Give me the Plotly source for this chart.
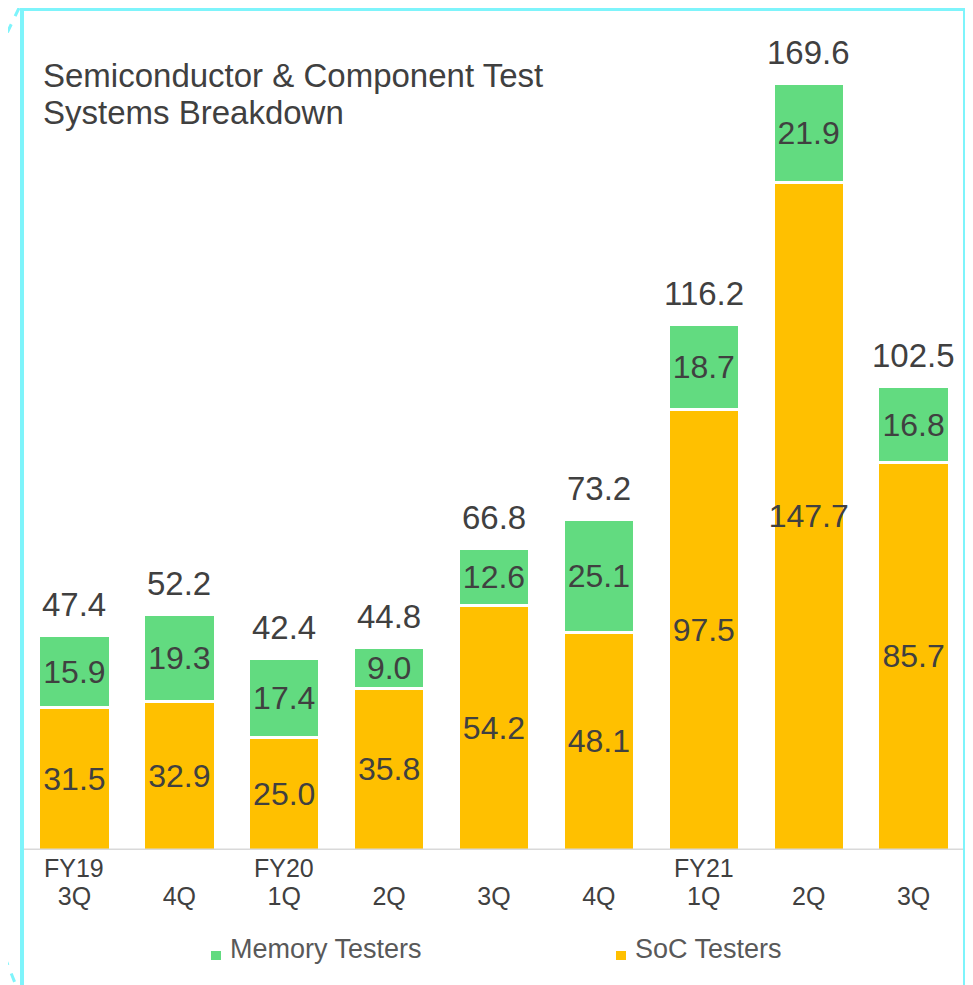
import plotly.graph_objects as go

# quarterly orders, billions of yen
fiscal = ["FY19", "", "FY20", "", "", "", "FY21", "", ""]
quarters = ["3Q", "4Q", "1Q", "2Q", "3Q", "4Q", "1Q", "2Q", "3Q"]
soc = [31.5, 32.9, 25.0, 35.8, 54.2, 48.1, 97.5, 147.7, 85.7]
memory = [15.9, 19.3, 17.4, 9.0, 12.6, 25.1, 18.7, 21.9, 16.8]
totals = [47.4, 52.2, 42.4, 44.8, 66.8, 73.2, 116.2, 169.6, 102.5]

GREEN, YELLOW, INK, CYAN, BASE = "#62db80", "#ffc000", "#404040", "#7ef4fb", "#d9d9d9"
FONT = "Liberation Sans, Arial, sans-serif"
xs = list(range(len(quarters)))

# the page body has an 8px margin, so the figure sits at (8, 8) on the page
OFF = 8
W, H = 973 - OFF, 985 - OFF
L, R, T, B = 22 - OFF, 7, 0, 985 - 850
pw, ph = W - L - R, H - T - B
px = lambda v: (v - OFF - L) / pw    # page pixel -> paper fraction
py = lambda v: (H - B - (v - OFF)) / ph

fig = go.Figure()
fig.add_trace(go.Bar(x=xs, y=soc, name="SoC Testers", width=0.68,
                     marker=dict(color=YELLOW, line=dict(color="white", width=3)),
                     text=[f"{v:.1f}" for v in soc], textposition="inside", insidetextanchor="middle",
                     textangle=0, constraintext="none", textfont=dict(size=32, color=INK)))
fig.add_trace(go.Bar(x=xs, y=memory, name="Memory Testers", width=0.68,
                     marker=dict(color=GREEN, line=dict(color="white", width=3)),
                     text=[f"{v:.1f}" for v in memory], textposition="inside", insidetextanchor="middle",
                     textangle=0, constraintext="none", textfont=dict(size=32, color=INK)))

for x, t in zip(xs, totals):
    fig.add_annotation(x=x, y=t, yshift=31, text=f"{t:.1f}", showarrow=False, yanchor="middle",
                       font=dict(size=33, color=INK, family=FONT))
for x, f in zip(xs, fiscal):
    if f:
        fig.add_annotation(x=x, xref="x", yref="paper", y=py(868), text=f, showarrow=False,
                           yanchor="middle", font=dict(size=25, color=INK, family=FONT))

# baseline and the cyan frame with its dashed corner strokes
fig.add_shape(type="line", xref="paper", yref="y", x0=0, x1=1, y0=0, y1=0,
              line=dict(color=BASE, width=3), layer="above")
fig.add_shape(type="path", xref="paper", yref="paper",
              path=f"M {px(22)},{py(990)} L {px(22)},{py(9)} L {px(965)},{py(9)} L {px(965)},{py(990)}",
              line=dict(color=CYAN, width=4))
fig.add_shape(type="line", xref="paper", yref="paper", x0=px(19), y0=py(8), x1=px(-2), y1=py(52),
              line=dict(color=CYAN, width=3, dash="dash"))
fig.add_shape(type="line", xref="paper", yref="paper", x0=px(-2), y0=py(940), x1=px(17), y1=py(988),
              line=dict(color=CYAN, width=3, dash="dash"))

fig.add_annotation(xref="paper", yref="paper", x=px(41), y=py(75), xanchor="left", yanchor="middle",
                   text="Semiconductor & Component Test", showarrow=False,
                   font=dict(size=33, color=INK, family=FONT))
fig.add_annotation(xref="paper", yref="paper", x=px(41), y=py(113), xanchor="left", yanchor="middle",
                   text="Systems Breakdown", showarrow=False,
                   font=dict(size=33, color=INK, family=FONT))

# legend: Memory first, then SoC
for name, color, lx in [("Memory Testers", GREEN, 211), ("SoC Testers", YELLOW, 616)]:
    fig.add_shape(type="rect", xref="paper", yref="paper", x0=px(lx), x1=px(lx + 10),
                  y0=py(960), y1=py(951), fillcolor=color, line=dict(width=0))
    fig.add_annotation(xref="paper", yref="paper", x=px(lx + 17), y=py(949), xanchor="left",
                       yanchor="middle", text=name, showarrow=False,
                       font=dict(size=27, color="#595959", family=FONT))

fig.update_layout(
    barmode="stack", width=W, height=H, paper_bgcolor="white", plot_bgcolor="white",
    margin=dict(l=L, r=R, t=T, b=B, autoexpand=False), font=dict(family=FONT, color=INK),
    showlegend=False)
fig.update_xaxes(range=[-0.5, 8.5], tickvals=xs, ticktext=quarters, showgrid=False, showline=False,
                 ticks="", ticklabelstandoff=29, tickfont=dict(size=25, color=INK),
                 automargin=False, fixedrange=True)
fig.update_yaxes(range=[0, 186.3], visible=False, showgrid=False, zeroline=False, fixedrange=True)

fig.write_html("out.html")
